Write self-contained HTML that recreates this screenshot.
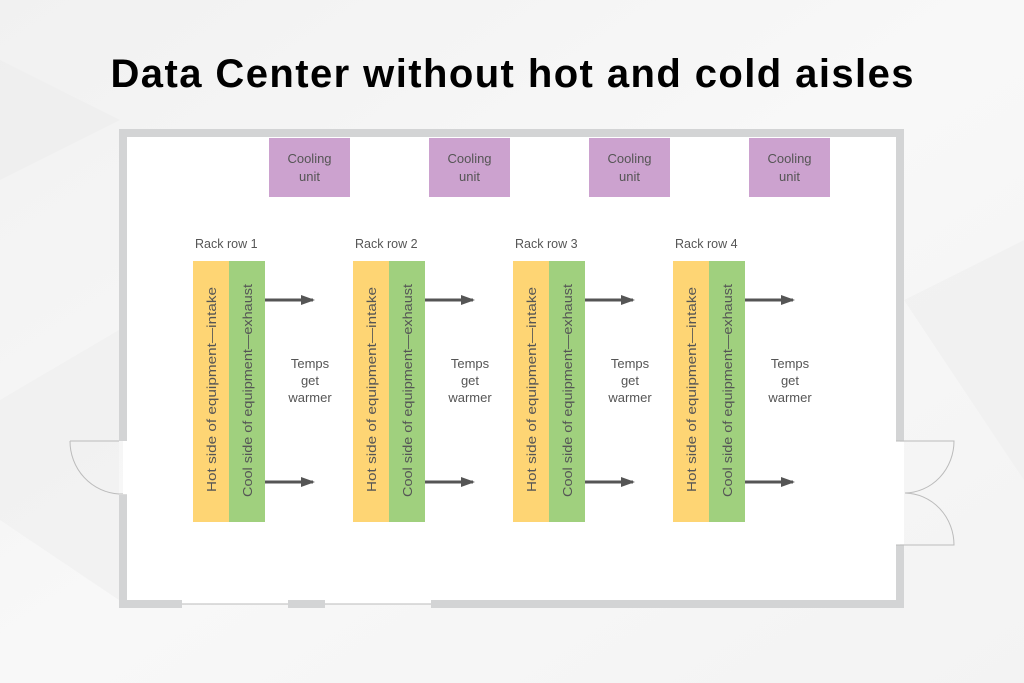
<!DOCTYPE html>
<html><head><meta charset="utf-8"><style>
html,body{margin:0;padding:0;width:1024px;height:683px;overflow:hidden;background:#f4f4f4}
</style></head><body>
<svg width="1024" height="683" viewBox="0 0 1024 683" xmlns="http://www.w3.org/2000/svg" font-family="Liberation Sans, sans-serif">
<defs>
<linearGradient id="bg" x1="0" y1="0" x2="1" y2="1">
<stop offset="0" stop-color="#f1f1f1"/><stop offset="0.5" stop-color="#f8f8f8"/><stop offset="1" stop-color="#f3f3f3"/>
</linearGradient>
<marker id="ah" markerWidth="14" markerHeight="10" refX="12" refY="5" orient="auto" markerUnits="userSpaceOnUse">
<path d="M0,0 L14,5 L0,10 Z" fill="#555"/>
</marker>
</defs>
<rect width="1024" height="683" fill="url(#bg)"/>
<polygon points="0,180 120,120 0,60" fill="#ececec" opacity="0.6"/>
<polygon points="0,400 119,330 119,600 0,520" fill="#eeeeee" opacity="0.6"/>
<polygon points="904,300 1024,240 1024,480" fill="#eeeeee" opacity="0.6"/>
<text x="512" y="87" text-anchor="middle" font-size="40" font-weight="bold" fill="#000" textLength="803" lengthAdjust="spacing">Data Center without hot and cold aisles</text>
<rect x="123" y="133" width="777" height="471" fill="#fff"/>
<g fill="#d3d4d5">
<rect x="119" y="129" width="785" height="8"/>
<rect x="119" y="129" width="8" height="312"/>
<rect x="119" y="495" width="8" height="113"/>
<rect x="896" y="129" width="8" height="312"/>
<rect x="896" y="545" width="8" height="63"/>
<rect x="119" y="600" width="63" height="8"/>
<rect x="288" y="600" width="37" height="8"/>
<rect x="431" y="600" width="473" height="8"/>
</g>
<g stroke="#bbb" stroke-width="1" fill="none">
<line x1="182" y1="604" x2="288" y2="604"/>
<line x1="325" y1="604" x2="431" y2="604"/>
<path d="M70,441 L119,441 M70,441 A52,53 0 0 0 119,494 L127,494"/>
<path d="M896,441 L954,441 A50,52 0 0 1 905,493 A50,52 0 0 1 954,545 L896,545"/>
</g>
<rect x="123" y="442" width="4" height="52" fill="#fff"/>
<rect x="896" y="442" width="8" height="102" fill="#fff"/>
<g font-size="13" fill="#555">
<g>
<rect x="269" y="138" width="81" height="59" fill="#cca2cf"/>
<text x="309.5" y="163" text-anchor="middle">Cooling</text><text x="309.5" y="181" text-anchor="middle">unit</text>
<text x="195" y="248" font-size="12.5">Rack row 1</text>
<rect x="193" y="261" width="36" height="261" fill="#fed574"/>
<rect x="229" y="261" width="36" height="261" fill="#a0d07e"/>
<text transform="translate(216,492) rotate(-90)" textLength="205" lengthAdjust="spacingAndGlyphs">Hot side of equipment—intake</text>
<text transform="translate(252,497) rotate(-90)" textLength="213" lengthAdjust="spacingAndGlyphs">Cool side of equipment—exhaust</text>
<line x1="265" y1="300" x2="313" y2="300" stroke="#555" stroke-width="3" marker-end="url(#ah)"/>
<line x1="265" y1="482" x2="313" y2="482" stroke="#555" stroke-width="3" marker-end="url(#ah)"/>
<text x="310" y="368" text-anchor="middle">Temps</text><text x="310" y="385" text-anchor="middle">get</text><text x="310" y="402" text-anchor="middle">warmer</text>
</g>
<g transform="translate(160,0)">
<rect x="269" y="138" width="81" height="59" fill="#cca2cf"/>
<text x="309.5" y="163" text-anchor="middle">Cooling</text><text x="309.5" y="181" text-anchor="middle">unit</text>
<text x="195" y="248" font-size="12.5">Rack row 2</text>
<rect x="193" y="261" width="36" height="261" fill="#fed574"/>
<rect x="229" y="261" width="36" height="261" fill="#a0d07e"/>
<text transform="translate(216,492) rotate(-90)" textLength="205" lengthAdjust="spacingAndGlyphs">Hot side of equipment—intake</text>
<text transform="translate(252,497) rotate(-90)" textLength="213" lengthAdjust="spacingAndGlyphs">Cool side of equipment—exhaust</text>
<line x1="265" y1="300" x2="313" y2="300" stroke="#555" stroke-width="3" marker-end="url(#ah)"/>
<line x1="265" y1="482" x2="313" y2="482" stroke="#555" stroke-width="3" marker-end="url(#ah)"/>
<text x="310" y="368" text-anchor="middle">Temps</text><text x="310" y="385" text-anchor="middle">get</text><text x="310" y="402" text-anchor="middle">warmer</text>
</g>
<g transform="translate(320,0)">
<rect x="269" y="138" width="81" height="59" fill="#cca2cf"/>
<text x="309.5" y="163" text-anchor="middle">Cooling</text><text x="309.5" y="181" text-anchor="middle">unit</text>
<text x="195" y="248" font-size="12.5">Rack row 3</text>
<rect x="193" y="261" width="36" height="261" fill="#fed574"/>
<rect x="229" y="261" width="36" height="261" fill="#a0d07e"/>
<text transform="translate(216,492) rotate(-90)" textLength="205" lengthAdjust="spacingAndGlyphs">Hot side of equipment—intake</text>
<text transform="translate(252,497) rotate(-90)" textLength="213" lengthAdjust="spacingAndGlyphs">Cool side of equipment—exhaust</text>
<line x1="265" y1="300" x2="313" y2="300" stroke="#555" stroke-width="3" marker-end="url(#ah)"/>
<line x1="265" y1="482" x2="313" y2="482" stroke="#555" stroke-width="3" marker-end="url(#ah)"/>
<text x="310" y="368" text-anchor="middle">Temps</text><text x="310" y="385" text-anchor="middle">get</text><text x="310" y="402" text-anchor="middle">warmer</text>
</g>
<g transform="translate(480,0)">
<rect x="269" y="138" width="81" height="59" fill="#cca2cf"/>
<text x="309.5" y="163" text-anchor="middle">Cooling</text><text x="309.5" y="181" text-anchor="middle">unit</text>
<text x="195" y="248" font-size="12.5">Rack row 4</text>
<rect x="193" y="261" width="36" height="261" fill="#fed574"/>
<rect x="229" y="261" width="36" height="261" fill="#a0d07e"/>
<text transform="translate(216,492) rotate(-90)" textLength="205" lengthAdjust="spacingAndGlyphs">Hot side of equipment—intake</text>
<text transform="translate(252,497) rotate(-90)" textLength="213" lengthAdjust="spacingAndGlyphs">Cool side of equipment—exhaust</text>
<line x1="265" y1="300" x2="313" y2="300" stroke="#555" stroke-width="3" marker-end="url(#ah)"/>
<line x1="265" y1="482" x2="313" y2="482" stroke="#555" stroke-width="3" marker-end="url(#ah)"/>
<text x="310" y="368" text-anchor="middle">Temps</text><text x="310" y="385" text-anchor="middle">get</text><text x="310" y="402" text-anchor="middle">warmer</text>
</g>
</g>
</svg>
</body></html>
